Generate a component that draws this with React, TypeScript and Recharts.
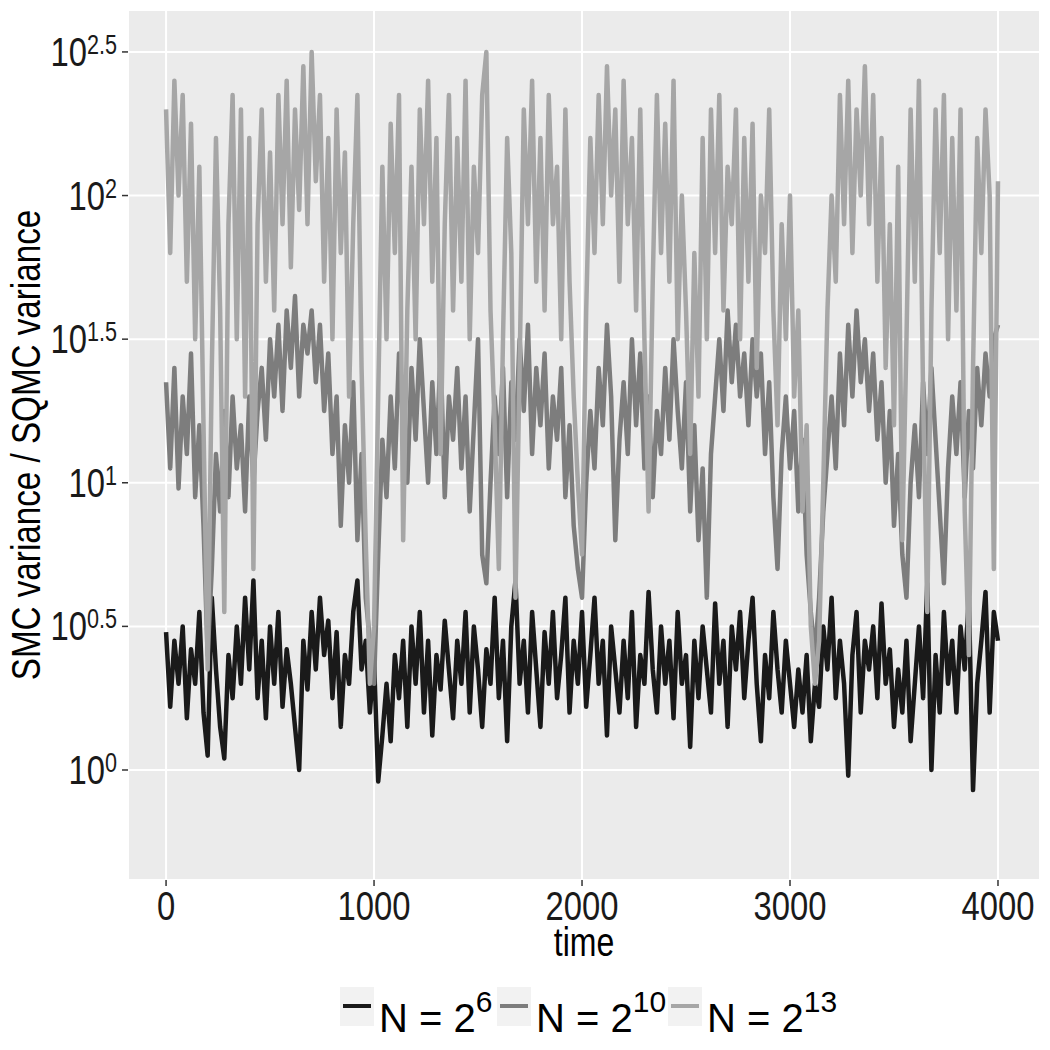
import React from 'react';
import { LineChart, Line, XAxis, YAxis, CartesianGrid, Label } from 'recharts';

// log10 of the variance ratio, one value every 20 time steps (0..4000)
const N6 = [
  0.48, 0.22, 0.45, 0.3, 0.5, 0.18, 0.42, 0.3, 0.55, 0.2,
  0.05, 0.6, 0.35, 0.15, 0.04, 0.4, 0.25, 0.5, 0.3, 0.6,
  0.35, 0.66, 0.25, 0.45, 0.18, 0.5, 0.3, 0.55, 0.22, 0.42,
  0.3, 0.15, 0.0, 0.45, 0.28, 0.55, 0.35, 0.6, 0.4, 0.52,
  0.25, 0.48, 0.15, 0.4, 0.3, 0.55, 0.66, 0.35, 0.45, 0.2,
  0.38, -0.04, 0.12, 0.3, 0.1, 0.4, 0.25, 0.45, 0.15, 0.5,
  0.3, 0.55, 0.2, 0.45, 0.12, 0.4, 0.28, 0.52, 0.35, 0.18,
  0.45, 0.3, 0.55, 0.2, 0.5, 0.35, 0.15, 0.42, 0.3, 0.6,
  0.25, 0.45, 0.1, 0.5, 0.66, 0.3, 0.45, 0.2, 0.55, 0.35,
  0.15, 0.48, 0.3, 0.55, 0.25, 0.4, 0.6, 0.2, 0.45, 0.3,
  0.55, 0.22, 0.4, 0.6, 0.3, 0.45, 0.12, 0.5, 0.35, 0.2,
  0.45, 0.25, 0.55, 0.15, 0.4, 0.3, 0.62, 0.35, 0.2, 0.5,
  0.3, 0.45, 0.18, 0.55, 0.3, 0.4, 0.08, 0.45, 0.25, 0.5,
  0.35, 0.2, 0.58, 0.3, 0.45, 0.15, 0.5, 0.35, 0.55, 0.25,
  0.45, 0.6, 0.3, 0.1, 0.4, 0.25, 0.55, 0.35, 0.2, 0.45,
  0.3, 0.15, 0.35, 0.2, 0.4, 0.1, 0.3, 0.22, 0.5, 0.35,
  0.6, 0.25, 0.45, 0.3, -0.02, 0.4, 0.55, 0.2, 0.45, 0.35,
  0.5, 0.25, 0.58, 0.3, 0.42, 0.15, 0.35, 0.2, 0.45, 0.1,
  0.3, 0.5, 0.25, 0.65, 0.0, 0.4, 0.2, 0.55, 0.3, 0.45,
  0.2, 0.5, 0.35, 0.6, -0.07, 0.3, 0.45, 0.62, 0.2, 0.55,
  0.45,
];

const N10 = [
  1.35, 1.05, 1.4, 0.98, 1.3, 1.1, 1.45, 0.95, 1.2, 0.85,
  0.4, 0.7, 1.1, 0.9, 1.25, 0.95, 1.3, 1.05, 1.2, 0.9,
  1.3, 1.0, 1.25, 1.4, 1.15, 1.5, 1.3, 1.55, 1.25, 1.6,
  1.4, 1.65, 1.3, 1.55, 1.45, 1.6, 1.35, 1.55, 1.25, 1.45,
  1.1, 1.3, 0.85, 1.2, 1.0, 1.35, 0.8, 1.1, 0.6, 0.45,
  0.3, 0.75, 1.15, 0.95, 1.3, 1.05, 1.45, 1.2, 1.0, 1.4,
  1.15, 1.5, 1.25, 1.0, 1.35, 1.1, 1.45, 0.95, 1.3, 1.15,
  1.4, 1.05, 1.3, 0.9, 1.2, 1.5, 0.75, 0.65, 1.0, 1.3,
  1.1, 1.4, 0.95, 1.35, 1.15, 1.5, 1.25, 1.55, 1.1, 1.4,
  1.2, 1.45, 1.05, 1.3, 1.15, 1.4, 0.95, 1.2, 0.85, 0.7,
  0.6, 1.0, 1.25, 1.05, 1.4, 1.2, 1.55, 1.3, 0.8, 1.15,
  1.35, 1.1, 1.5, 1.2, 1.45, 1.05, 1.3, 0.95, 1.25, 1.1,
  1.4, 1.15, 1.5, 1.25, 1.05, 1.35, 0.9, 1.2, 0.8, 1.05,
  0.6, 1.1, 1.3, 1.5, 1.25, 1.6, 1.35, 1.55, 1.3, 1.45,
  1.2, 1.5, 1.3, 1.45, 1.1, 1.35, 0.95, 0.7, 1.1, 1.3,
  1.05, 1.25, 0.9, 1.15, 0.75, 0.55, 0.4, 0.6, 0.9, 1.1,
  1.3, 1.05, 1.45, 1.2, 1.55, 1.3, 1.6, 1.35, 1.5, 1.25,
  1.45, 1.15, 1.35, 1.0, 1.25, 0.85, 1.1, 0.75, 0.6, 1.0,
  1.2, 0.95, 1.35, 1.1, 1.4, 1.15, 0.9, 0.65, 1.05, 1.3,
  1.1, 1.35, 0.95, 1.25, 1.05, 1.4, 1.2, 1.45, 1.3, 1.5,
  1.55,
];

const N13 = [
  2.3, 1.8, 2.4, 2.0, 2.35, 1.7, 2.25, 1.5, 2.1, 1.2,
  0.35, 1.4, 2.2, 1.6, 0.55, 1.9, 2.35, 1.5, 2.3, 1.3,
  2.2, 0.7, 1.9, 2.3, 1.7, 2.15, 1.6, 2.35, 1.9, 2.4,
  1.75, 2.3, 1.95, 2.45, 1.9, 2.5, 2.05, 2.35, 1.7, 2.2,
  1.5, 2.3, 1.8, 2.15, 1.3, 1.9, 2.35, 1.4, 0.8, 0.3,
  0.5, 1.3, 2.1, 1.5, 2.25, 1.8, 2.35, 0.8, 1.6, 2.1,
  1.5, 2.3, 1.9, 2.4, 1.7, 2.2, 1.1, 1.9, 2.35, 1.6,
  2.2, 1.7, 2.4, 1.5, 2.1, 1.8, 2.35, 2.5, 1.6, 1.2,
  0.7, 1.5, 2.2, 1.8, 0.6, 1.4, 2.3, 1.9, 2.4, 1.7,
  2.2, 1.6, 2.35, 1.9, 2.1, 1.5, 2.3, 1.7, 1.3, 1.0,
  0.75, 1.6, 2.2, 1.8, 2.35, 1.9, 2.45, 2.0, 2.3, 1.7,
  2.4, 1.9, 2.2, 1.6, 2.3, 1.5, 0.9, 1.7, 2.35, 1.8,
  2.25, 1.7, 2.4, 1.5, 2.0, 1.6, 1.1, 1.8, 1.3, 2.2,
  1.5, 2.3, 1.8, 2.35, 1.6, 2.1, 1.9, 2.3, 1.5, 2.2,
  1.7, 2.25, 1.4, 2.0, 1.8, 2.3, 1.6, 1.2, 1.9, 1.5,
  2.0, 1.3, 1.6, 0.9, 1.2, 0.5, 0.3, 0.45, 1.0, 1.6,
  2.0, 1.7, 2.35, 1.9, 2.4, 1.8, 2.3, 2.0, 2.45, 1.9,
  2.35, 1.7, 2.2, 1.4, 1.9, 1.2, 2.1, 0.8, 1.5, 2.3,
  1.7, 2.4, 1.3, 0.55, 1.6, 2.3, 1.8, 2.35, 1.5, 2.2,
  1.6, 2.3, 0.9, 0.4, 1.4, 2.2, 1.8, 2.3, 2.0, 0.7,
  2.05,
];

const TIME_STEP = 20;
const X_TICKS = [0, 1000, 2000, 3000, 4000];
const X_MINOR = [500, 1500, 2500, 3500];
const Y_TICKS = [0, 0.5, 1, 1.5, 2, 2.5];
const Y_MINOR = [-0.25, 0.25, 0.75, 1.25, 1.75, 2.25];

const data = N6.map((v, i) => ({
  time: i * TIME_STEP,
  n6: v,
  n10: N10[i],
  n13: N13[i],
}));

const FONT = '"Liberation Sans", Arial, Helvetica, sans-serif';
const SQUEEZE = 0.8;

const YTick = (props: any) => {
  const { x, y, payload } = props;
  return (
    <g transform={`translate(${x - 3},${y})`}>
      <text transform={`scale(${SQUEEZE},1)`} textAnchor="end" fontFamily={FONT} fill="#1A1A1A">
        <tspan fontSize={41} dy={14}>10</tspan>
        <tspan fontSize={27} dy={-12}>{String(payload.value)}</tspan>
      </text>
    </g>
  );
};

const XTick = (props: any) => {
  const { x, y, payload } = props;
  return (
    <g transform={`translate(${x},${y})`}>
      <text transform={`scale(${SQUEEZE},1)`} textAnchor="middle" fontFamily={FONT} fontSize={41} dy={32} fill="#1A1A1A">
        {payload.value}
      </text>
    </g>
  );
};

const YTitle = (props: any) => {
  const vb = props.viewBox || { x: 0, y: 10, width: 128, height: 870 };
  const cy = vb.y + vb.height / 2;
  return (
    <text
      transform={`translate(40,${cy}) rotate(-90) scale(0.81,1)`}
      textAnchor="middle"
      fontFamily={FONT}
      fontSize={41}
      fill="#000"
    >
      SMC variance / SQMC variance
    </text>
  );
};

const XTitle = (props: any) => {
  const vb = props.viewBox || { x: 128, y: 880, width: 912, height: 170 };
  const cx = vb.x + vb.width / 2;
  return (
    <text
      transform={`translate(${cx},956) scale(${SQUEEZE},1)`}
      textAnchor="middle"
      fontFamily={FONT}
      fontSize={40}
      fill="#000"
    >
      time
    </text>
  );
};

const scaleOf = (axis: any) => (axis && typeof axis.scale === 'function' ? axis.scale : null);

const minorH = (p: any) => {
  const s = scaleOf(p.yAxis);
  return s ? Y_MINOR.map((v) => s(v)) : [];
};
const minorV = (p: any) => {
  const s = scaleOf(p.xAxis);
  return s ? X_MINOR.map((v) => s(v)) : [];
};

const LEGEND = [
  { key: 'n6', exp: '6', color: '#1A1A1A', box: 340, text: 379 },
  { key: 'n10', exp: '10', color: '#7D7D7D', box: 497, text: 536 },
  { key: 'n13', exp: '13', color: '#A6A6A6', box: 668, text: 707 },
];

const LegendStrip = () => (
  <svg width={1050} height={80} style={{ position: 'absolute', left: 0, top: 975 }}>
    {LEGEND.map((it) => (
      <g key={it.key}>
        <rect x={it.box} y={12} width={34} height={39} fill="#F2F2F2" />
        <line x1={it.box + 3} x2={it.box + 31} y1={31} y2={31} stroke={it.color} strokeWidth={4} />
        <text x={it.text} y={57} fontFamily={FONT} fontSize={40} fill="#000">
          N = 2<tspan fontSize={30} dy={-20}>{it.exp}</tspan>
        </text>
      </g>
    ))}
  </svg>
);

export default function App() {
  return (
    <div style={{ position: 'absolute', left: 0, top: 0, width: 1050, height: 1050, background: '#fff' }}>
      <LineChart width={1050} height={1050} data={data} margin={{ top: 10, right: 10, bottom: 0, left: 0 }}>
        <CartesianGrid
          fill="#EBEBEB"
          stroke="#FFFFFF"
          strokeWidth={1}
          horizontalCoordinatesGenerator={minorH}
          verticalCoordinatesGenerator={minorV}
        />
        <CartesianGrid fill="none" stroke="#FFFFFF" strokeWidth={2} />
        <XAxis
          dataKey="time"
          type="number"
          domain={[-183, 4202]}
          ticks={X_TICKS}
          allowDataOverflow
          height={170}
          axisLine={false}
          tickLine={{ stroke: '#333333', strokeWidth: 1.5 }}
          tickSize={6}
          tick={<XTick />}
        >
          <Label content={<XTitle />} />
        </XAxis>
        <YAxis
          type="number"
          domain={[-0.383, 2.646]}
          ticks={Y_TICKS}
          allowDataOverflow
          width={128}
          axisLine={false}
          tickLine={{ stroke: '#333333', strokeWidth: 1.5 }}
          tickSize={6}
          tick={<YTick />}
        >
          <Label content={<YTitle />} />
        </YAxis>
        <Line type="linear" dataKey="n6" stroke="#1A1A1A" strokeWidth={4.5} strokeLinejoin="round" dot={false} isAnimationActive={false} />
        <Line type="linear" dataKey="n10" stroke="#7D7D7D" strokeWidth={4.5} strokeLinejoin="round" dot={false} isAnimationActive={false} />
        <Line type="linear" dataKey="n13" stroke="#A6A6A6" strokeWidth={4.5} strokeLinejoin="round" dot={false} isAnimationActive={false} />
      </LineChart>
      <LegendStrip />
    </div>
  );
}
